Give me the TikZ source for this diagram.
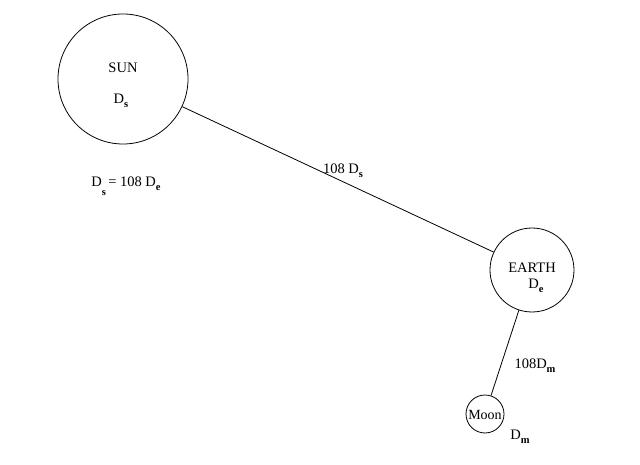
\documentclass[tikz,border=0pt]{standalone}
\usepackage{fontspec}
\setmainfont{Liberation Serif}
\newcommand{\sbs}[2][-4pt]{\raisebox{#1}{\fontsize{10.5}{12}\selectfont\bfseries #2}}
\begin{document}
\begin{tikzpicture}[x=1pt,y=-1pt,
  body/.style={draw,circle,line width=0.8pt,inner sep=0pt},
  lbl/.style={inner sep=0pt,font=\fontsize{14.5}{16}\selectfont},
  link/.style={line width=0.8pt}]
\useasboundingbox (0,0) rectangle (640,465);
\node[body,minimum size=130pt] (sun) at (123,79) {};
\node[body,minimum size=84pt] (earth) at (532,270) {};
\node[body,minimum size=38pt] (moon) at (485,414) {};
\draw[link] (sun) -- (earth);
\draw[link] (earth) -- (moon);
\node[lbl] (sunname) at (123,68) {SUN};
\node[lbl] (sund) at (121,101) {D\sbs{s}};
\node[lbl] (rel) at (126,186) {D\sbs[-9pt]{s}\,= 108 D\sbs{e}};
\node[lbl] (sedist) at (343,171) {108 D\sbs{s}};
\node[lbl] (earthname) at (532,268) {EARTH};
\node[lbl] (earthd) at (536,286) {D\sbs{e}};
\node[lbl] (emdist) at (535,366) {108D\sbs{m}};
\node[lbl,font=\fontsize{14}{15}\selectfont,inner sep=0pt] (moonname) at (485,415) {Moon};
\node[lbl] (moond) at (520,437) {D\sbs{m}};
\end{tikzpicture}
\end{document}
